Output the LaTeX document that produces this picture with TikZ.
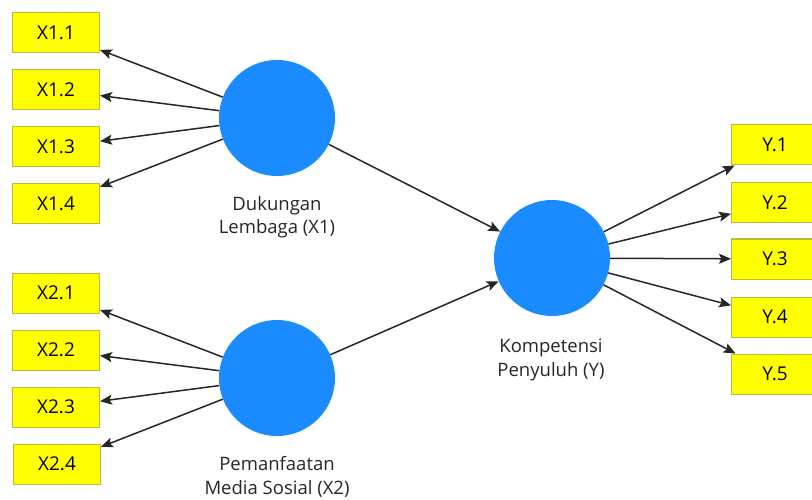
\documentclass[tikz,border=0pt]{standalone}
\usepackage{fontspec}
\setmainfont{Open Sans}
\usetikzlibrary{arrows.meta}
\definecolor{latentblue}{RGB}{26,140,255}
\definecolor{boxyellow}{RGB}{255,255,0}
\definecolor{boxedge}{RGB}{185,185,60}

\begin{document}
\begin{tikzpicture}[x=1pt, y=-1pt]
    \tikzstyle{latent var} = [circle,fill=latentblue,inner sep=0pt, minimum size=116pt]
    \tikzstyle{indicator} = [rectangle,draw=boxedge,fill=boxyellow,line width=1pt,minimum width=87pt, minimum height=40pt, font=\fontsize{19}{23}\selectfont]
    \tikzstyle{var label} = [align=center, text=black!85, font=\fontsize{18.5}{23.5}\selectfont]
    \tikzstyle{path edge} = [draw=black!85, line width=1.5pt, ->, >={Stealth[length=12pt, width=10pt, inset=2.5pt]}]
\useasboundingbox (0,0) rectangle (812,500);
\node[latent var] (x1) at (277, 118) {};
\node[latent var] (x2) at (277, 378) {};
\node[latent var] (y) at (552, 258) {};
\node[var label] (x1lab) at (277, 217) {Dukungan\\Lembaga (X1)};
\node[var label] (x2lab) at (277, 477) {Pemanfaatan\\Media Sosial (X2)};
\node[var label] (ylab) at (551, 360) {Kompetensi\\Penyuluh (Y)};
\node[indicator] (x11) at (56, 33) {X1.1};
\node[indicator] (x12) at (56, 90) {X1.2};
\node[indicator] (x13) at (56, 147) {X1.3};
\node[indicator] (x14) at (56, 204) {X1.4};
\node[indicator] (x21) at (56, 293) {X2.1};
\node[indicator] (x22) at (56, 350) {X2.2};
\node[indicator] (x23) at (56, 407) {X2.3};
\node[indicator] (x24) at (57, 464) {X2.4};
\node[indicator] (y1) at (775, 145) {Y.1};
\node[indicator] (y2) at (775, 203) {Y.2};
\node[indicator] (y3) at (775, 259) {Y.3};
\node[indicator] (y4) at (775, 317) {Y.4};
\node[indicator] (y5) at (775, 374) {Y.5};
\draw[path edge] (x1) to (x11);
\draw[path edge] (x1) to (x12);
\draw[path edge] (x1) to (x13);
\draw[path edge] (x1) to (x14);
\draw[path edge] (x2) to (x21);
\draw[path edge] (x2) to (x22);
\draw[path edge] (x2) to (x23);
\draw[path edge] (x2) to (x24);
\draw[path edge] (x1) to (y);
\draw[path edge] (x2) to (y);
\draw[path edge] (y) to (y1);
\draw[path edge] (y) to (y2);
\draw[path edge] (y) to (y3);
\draw[path edge] (y) to (y4);
\draw[path edge] (y) to (y5);
\end{tikzpicture}
\end{document}
